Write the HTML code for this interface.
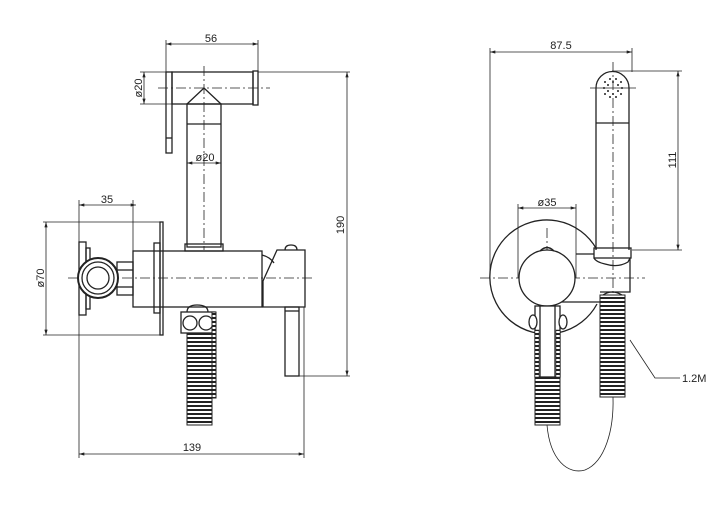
<!DOCTYPE html>
<html><head><style>
html,body{margin:0;padding:0;background:#fff;}
svg{display:block;}
text{font-family:"Liberation Sans",sans-serif;font-size:11px;fill:#222;}
</style></head><body>
<svg width="720" height="511" viewBox="0 0 720 511" xmlns="http://www.w3.org/2000/svg">
<defs>
<pattern id="hat" width="4" height="4" patternUnits="userSpaceOnUse">
<rect width="4" height="4" fill="#fff"/><rect y="1" width="4" height="2" fill="#222"/>
</pattern>
<marker id="ar" viewBox="0 0 10 6" refX="10" refY="3" markerWidth="8" markerHeight="4" orient="auto-start-reverse">
<path d="M0,0 L10,3 L0,6 z" fill="#222"/></marker>
</defs>
<g stroke="#222" fill="none" stroke-width="0.8">
<!-- LEFT VIEW dims -->
<line x1="166" y1="44" x2="258" y2="44" marker-start="url(#ar)" marker-end="url(#ar)"/>
<line x1="166" y1="40" x2="166" y2="72"/><line x1="258" y1="40" x2="258" y2="72"/>
<line x1="144" y1="72" x2="144" y2="104" marker-start="url(#ar)" marker-end="url(#ar)"/>
<line x1="140" y1="72" x2="166" y2="72"/><line x1="140" y1="104" x2="187" y2="104"/>
<line x1="258" y1="72" x2="350" y2="72"/>
<line x1="347" y1="72" x2="347" y2="376" marker-start="url(#ar)" marker-end="url(#ar)"/>
<line x1="299" y1="376" x2="350" y2="376"/>
<line x1="79" y1="205" x2="136" y2="205" marker-start="url(#ar)" marker-end="url(#ar)"/>
<line x1="79" y1="200" x2="79" y2="458"/><line x1="133" y1="200" x2="133" y2="251"/>
<line x1="46" y1="222" x2="46" y2="335" marker-start="url(#ar)" marker-end="url(#ar)"/>
<line x1="43" y1="222" x2="163" y2="222"/><line x1="43" y1="335" x2="163" y2="335"/>
<line x1="79" y1="454" x2="304" y2="454" marker-start="url(#ar)" marker-end="url(#ar)"/>
<line x1="304" y1="307" x2="304" y2="458"/>
<line x1="187" y1="163" x2="221" y2="163" marker-start="url(#ar)" marker-end="url(#ar)"/>
<!-- centerlines -->
<line x1="204" y1="66" x2="204" y2="250" stroke-dasharray="10,3,2,3"/>
<line x1="158" y1="88" x2="270" y2="88" stroke-dasharray="10,3,2,3"/>
<line x1="68" y1="278" x2="313" y2="278" stroke-dasharray="10,3,2,3"/>
<!-- head -->
<g stroke-width="1.3">
<rect x="172" y="72" width="81" height="32"/>
<rect x="253" y="71" width="5" height="34"/>
<rect x="166" y="72" width="6" height="81"/>
<line x1="166" y1="138" x2="172" y2="138"/>
<path d="M187,104 L204,88 L221,104"/>
<rect x="187" y="104" width="34" height="143"/>
<line x1="187" y1="124" x2="221" y2="124"/>
<rect x="185" y="244" width="38" height="7"/>
<!-- body -->
<rect x="160" y="222" width="3" height="113"/>
<rect x="154" y="243" width="6" height="70"/>
<rect x="133" y="251" width="129" height="56"/>
<path d="M262,255 Q270,257 274,263"/>
<path d="M277,250 L305,250 L305,307 L263,307 L263,281 Z"/>
<path d="M285,250 Q285,245 291,245 Q297,245 297,250"/>
<rect x="285" y="307" width="14" height="69"/>
<line x1="285" y1="311" x2="299" y2="311"/>
<!-- left fitting -->
<rect x="79" y="242" width="7" height="73"/>
<rect x="86" y="248" width="4" height="61"/>
<rect x="117" y="262" width="16" height="33"/>
<line x1="117" y1="270" x2="133" y2="270"/><line x1="117" y1="287" x2="133" y2="287"/>
<circle cx="98" cy="278" r="20" fill="#fff" stroke-width="2"/>
<circle cx="98" cy="278" r="16"/>
<circle cx="98" cy="278" r="11"/>
<!-- bottom fitting -->
<path d="M187,312 Q187,305 197,305 Q208,305 208,312"/>
<rect x="181" y="312" width="34" height="21"/>
<circle cx="190" cy="323" r="7"/><circle cx="206" cy="323" r="7"/>
</g>
<rect x="187" y="333" width="25" height="92" fill="url(#hat)" stroke-width="1"/>
<rect x="212" y="312" width="4" height="86" fill="url(#hat)" stroke-width="1"/>

<!-- RIGHT VIEW -->
<line x1="490" y1="52" x2="632" y2="52" marker-start="url(#ar)" marker-end="url(#ar)"/>
<line x1="490" y1="48" x2="490" y2="278"/><line x1="632" y1="48" x2="632" y2="72"/>
<line x1="612" y1="71" x2="682" y2="71"/><line x1="632" y1="250" x2="682" y2="250"/>
<line x1="678" y1="71" x2="678" y2="250" marker-start="url(#ar)" marker-end="url(#ar)"/>
<line x1="518" y1="208" x2="576" y2="208" marker-start="url(#ar)" marker-end="url(#ar)"/>
<line x1="518" y1="204" x2="518" y2="278"/><line x1="576" y1="204" x2="576" y2="278"/>
<line x1="480" y1="278" x2="645" y2="278" stroke-dasharray="10,3,2,3"/>
<line x1="547" y1="228" x2="547" y2="380" stroke-dasharray="10,3,2,3"/>
<line x1="613" y1="62" x2="613" y2="300" stroke-dasharray="10,3,2,3"/>
<line x1="590" y1="88" x2="636" y2="88"/>
<g stroke-width="1.3">
<path d="M596,250 L596,88 A16.5,16.5 0 0 1 629,88 L629,250"/>
<line x1="596" y1="123" x2="629" y2="123"/>
<rect x="594" y="248" width="37" height="10"/>
<path d="M594,258 Q596,262 605,264 Q618,268 628,262 L630,258 L630,292 L600,292"/>
<path d="M596.5,249 A57,57 0 1 0 597,304" />
<line x1="576" y1="254" x2="594" y2="254"/>
<line x1="560" y1="302" x2="600" y2="302"/>
<circle cx="547" cy="278" r="28" fill="#fff"/>
<path d="M540,251 Q547,244 554,251"/>
<rect x="535" y="306" width="25" height="71" fill="#fff"/>
<line x1="540" y1="306" x2="540" y2="377"/><line x1="555" y1="306" x2="555" y2="377"/>
<ellipse cx="533" cy="322" rx="4" ry="7" fill="#fff"/>
<ellipse cx="563" cy="322" rx="4" ry="7" fill="#fff"/>
<path d="M603,295 Q612,289 622,295"/>
</g>
<rect x="535" y="377" width="25" height="48" fill="url(#hat)" stroke-width="1"/>
<rect x="535" y="330" width="4" height="47" fill="url(#hat)" stroke-width="0.5"/>
<rect x="556" y="330" width="4" height="47" fill="url(#hat)" stroke-width="0.5"/>
<rect x="600" y="295" width="25" height="102" fill="url(#hat)" stroke-width="1"/>
<path d="M547,425 C550,460 568,475 585,470 C605,462 614,430 613,397" stroke-width="0.8"/>
<polyline points="630,340 655,378 680,378"/>
</g>
<g fill="#222" stroke="none">
<circle cx="605" cy="82" r="1"/><circle cx="610" cy="79" r="1"/><circle cx="616" cy="79" r="1"/><circle cx="621" cy="82" r="1"/>
<circle cx="604" cy="88" r="1"/><circle cx="608" cy="85" r="1"/><circle cx="618" cy="85" r="1"/><circle cx="622" cy="88" r="1"/>
<circle cx="605" cy="94" r="1"/><circle cx="610" cy="97" r="1"/><circle cx="616" cy="97" r="1"/><circle cx="621" cy="94" r="1"/>
<circle cx="608" cy="91" r="1"/><circle cx="618" cy="91" r="1"/><circle cx="613" cy="94" r="1"/><circle cx="613" cy="82" r="1"/>
</g>
<text x="211" y="42" text-anchor="middle">56</text>
<text x="205" y="161" text-anchor="middle">ø20</text>
<text x="107" y="203" text-anchor="middle">35</text>
<text x="192" y="451" text-anchor="middle">139</text>
<text transform="translate(142,88) rotate(-90)" text-anchor="middle">ø20</text>
<text transform="translate(344,225) rotate(-90)" text-anchor="middle">190</text>
<text transform="translate(44,278) rotate(-90)" text-anchor="middle">ø70</text>
<text x="561" y="49" text-anchor="middle">87.5</text>
<text x="547" y="206" text-anchor="middle">ø35</text>
<text transform="translate(676,160) rotate(-90)" text-anchor="middle">111</text>
<text x="682" y="382">1.2M</text>
</svg>
</body></html>
